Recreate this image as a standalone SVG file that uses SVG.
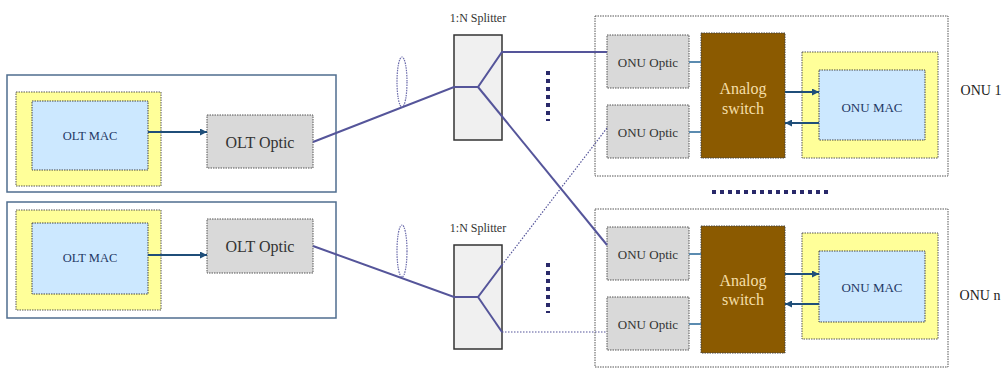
<svg xmlns="http://www.w3.org/2000/svg" width="1004" height="375" viewBox="0 0 1004 375">
<defs>
<marker id="ah" viewBox="0 0 10 10" refX="10" refY="5" markerWidth="7" markerHeight="7" markerUnits="userSpaceOnUse" orient="auto"><path d="M0,0 L10,5 L0,10 z" fill="#1F4E79"/></marker>
<style>
text{font-family:"Liberation Serif","Times New Roman",serif;text-anchor:middle;dominant-baseline:central}
.olt{fill:#fff;stroke:#4F6D8F;stroke-width:1.5}
.yel{fill:#FFFF99;stroke:#555;stroke-width:1;stroke-dasharray:1.5 1}
.blu{fill:#CCE8FF;stroke:#444;stroke-width:1;stroke-dasharray:1.5 1}
.gry{fill:#D9D9D9;stroke:#555;stroke-width:1;stroke-dasharray:1.5 1}
.onu{fill:#fff;stroke:#555;stroke-width:1;stroke-dasharray:1.5 1}
.sw{fill:#8B5A00;stroke:#444;stroke-width:1;stroke-dasharray:1.5 1}
.spl{fill:#F0F0F0;stroke:#333;stroke-width:1.5}
.mac{fill:#1F3864;font-size:12.5px}
.omac{fill:#1F3864;font-size:13px}
.opt{fill:#333;font-size:16px}
.onopt{fill:#333;font-size:13px}
.swt{fill:#F5DFA8;font-size:16px}
.lbl{fill:#222;font-size:14px}
.spt{fill:#333;font-size:12px}
.fib{fill:none;stroke:#55559A;stroke-width:2}
.fibd{fill:none;stroke:#55559A;stroke-width:1.2;stroke-dasharray:1.5 1.5}
.ell{fill:none;stroke:#6A6AAA;stroke-width:1.2;stroke-dasharray:1.5 1}
.arr{stroke:#1F4E79;stroke-width:2;fill:none}
.stub{stroke:#5B8BB0;stroke-width:2}
.dots{stroke:#2A2A6A;stroke-width:4;stroke-dasharray:4 4}
</style>
</defs>
<g id="olt1">
<rect class="olt" x="7" y="75" width="329" height="117"/>
<rect class="yel" x="16" y="92" width="145" height="94"/>
<g id="olt1-mac"><rect class="blu" x="32" y="101" width="116" height="69"/><text class="mac" x="90" y="136">OLT MAC</text></g>
<g id="olt1-optic"><rect class="gry" x="207" y="115" width="106" height="53"/><text class="opt" x="260" y="142">OLT Optic</text></g>
</g>
<g id="olt2">
<rect class="olt" x="7" y="202" width="329" height="116"/>
<rect class="yel" x="16" y="210" width="145" height="100"/>
<g id="olt2-mac"><rect class="blu" x="32" y="223" width="116" height="71"/><text class="mac" x="90" y="258">OLT MAC</text></g>
<g id="olt2-optic"><rect class="gry" x="207" y="219" width="106" height="54"/><text class="opt" x="260" y="246">OLT Optic</text></g>
</g>
<g id="splitter1"><rect class="spl" x="454" y="35" width="48" height="105"/><text class="spt" x="478" y="18">1:N Splitter</text></g>
<g id="splitter2"><rect class="spl" x="454" y="245" width="48" height="104"/><text class="spt" x="478" y="228">1:N Splitter</text></g>
<g id="onu1">
<rect class="onu" x="595" y="16" width="353" height="160"/>
<g id="onu1-optic1"><rect class="gry" x="607" y="35" width="82" height="53"/><text class="onopt" x="648" y="62">ONU Optic</text></g>
<g id="onu1-optic2"><rect class="gry" x="607" y="105" width="82" height="53"/><text class="onopt" x="648" y="132">ONU Optic</text></g>
<g id="onu1-switch"><rect class="sw" x="701" y="33" width="84" height="125"/><text class="swt" x="743" y="88">Analog</text><text class="swt" x="743" y="108">switch</text></g>
<rect class="yel" x="802" y="52" width="136" height="106"/>
<g id="onu1-mac"><rect class="blu" x="819" y="70" width="106" height="70"/><text class="omac" x="872" y="107">ONU MAC</text></g>
<text class="lbl" x="981" y="90">ONU 1</text>
</g>
<g id="onun">
<rect class="onu" x="595" y="209" width="353" height="158"/>
<g id="onun-optic1"><rect class="gry" x="607" y="227" width="82" height="53"/><text class="onopt" x="648" y="254">ONU Optic</text></g>
<g id="onun-optic2"><rect class="gry" x="607" y="297" width="82" height="53"/><text class="onopt" x="648" y="324">ONU Optic</text></g>
<g id="onun-switch"><rect class="sw" x="701" y="226" width="84" height="127"/><text class="swt" x="743" y="280">Analog</text><text class="swt" x="743" y="299">switch</text></g>
<rect class="yel" x="802" y="233" width="136" height="106"/>
<g id="onun-mac"><rect class="blu" x="819" y="251" width="106" height="71"/><text class="omac" x="872" y="287">ONU MAC</text></g>
<text class="lbl" x="980" y="295">ONU n</text>
</g>
<g id="connectors">
<line class="arr" x1="148" y1="132" x2="207" y2="132" marker-end="url(#ah)"/>
<line class="arr" x1="148" y1="255" x2="207" y2="255" marker-end="url(#ah)"/>
<polyline class="fib" points="313,142 454,87 478,87 502,52 607,52"/>
<polyline class="fib" points="478,87 607,245"/>
<polyline class="fib" points="313,246 454,297 478,297 502,265"/>
<polyline class="fib" points="478,297 502,332"/>
<line class="fibd" x1="502" y1="265" x2="607" y2="128"/>
<line class="fibd" x1="502" y1="332" x2="607" y2="332"/>
<ellipse class="ell" cx="402" cy="82" rx="5" ry="25"/>
<ellipse class="ell" cx="402" cy="251" rx="5" ry="26"/>
<line class="stub" x1="689" y1="62" x2="701" y2="62"/>
<line class="stub" x1="689" y1="132" x2="701" y2="132"/>
<line class="stub" x1="689" y1="254" x2="701" y2="254"/>
<line class="stub" x1="689" y1="324" x2="701" y2="324"/>
<line class="arr" x1="785" y1="92" x2="819" y2="92" marker-end="url(#ah)"/>
<line class="arr" x1="819" y1="123" x2="785" y2="123" marker-end="url(#ah)"/>
<line class="arr" x1="785" y1="274" x2="819" y2="274" marker-end="url(#ah)"/>
<line class="arr" x1="819" y1="304" x2="785" y2="304" marker-end="url(#ah)"/>
<line class="dots" x1="548" y1="71" x2="548" y2="121"/>
<line class="dots" x1="548" y1="263" x2="548" y2="313"/>
<line class="dots" x1="712" y1="192" x2="832" y2="192"/>
</g>
</svg>
